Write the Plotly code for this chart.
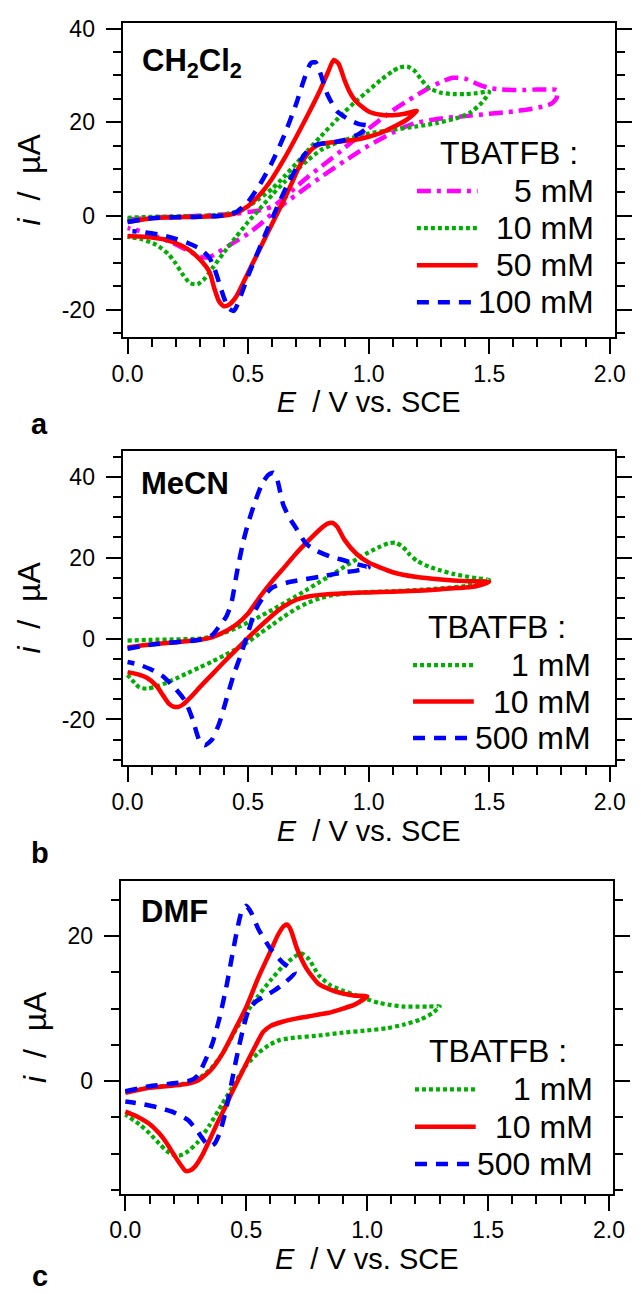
import plotly.graph_objects as go

# ------------------------------------------------------------------
# DATA
# ------------------------------------------------------------------
# Panel a : CH2Cl2, TBATFB 5 / 10 / 50 / 100 mM
E_a5 = [0, 0.1, 0.2, 0.3, 0.4, 0.45, 0.5, 0.55, 0.6, 0.65, 0.7, 0.75, 0.8, 0.85, 0.9, 0.95, 1.0, 1.05, 1.1,
        1.15, 1.2, 1.25, 1.3, 1.35, 1.4, 1.45, 1.5, 1.55, 1.6, 1.65, 1.7, 1.75, 1.78,
        1.78, 1.76, 1.72, 1.66, 1.6, 1.5, 1.4, 1.3, 1.2, 1.15, 1.1, 1.05, 1.0, 0.95, 0.9, 0.85, 0.8, 0.75, 0.7,
        0.65, 0.6, 0.55, 0.5, 0.45, 0.4, 0.36, 0.33, 0.3, 0.25, 0.2, 0.15, 0.1, 0.05, 0.0]
I_a5 = [-0.8, -0.4, -0.2, 0, 0.3, 0.5, 0.8, 1.2, 2.0, 3.8, 6.2, 8.4, 10.4, 12.4, 14.5, 16.6, 18.6, 20.6, 22.5,
        24.2, 25.8, 27.3, 28.6, 29.5, 29.3, 28.2, 27.3, 27.0, 26.9, 26.9, 27.0, 27.0, 26.9,
        25.2, 24.0, 23.3, 22.7, 22.3, 21.8, 21.3, 20.8, 19.9, 19.0, 17.8, 16.4, 15.0, 13.4, 11.7, 10.0, 8.2, 6.4,
        4.5, 2.6, 0.5, -1.8, -3.8, -5.4, -7.0, -8.3, -8.9, -8.7, -7.4, -6.1, -5.0, -4.0, -3.2, -2.6]

E_a10 = [0, 0.1, 0.2, 0.3, 0.4, 0.45, 0.5, 0.55, 0.6, 0.65, 0.7, 0.75, 0.8, 0.85, 0.9, 0.95, 1.0, 1.05, 1.1,
         1.13, 1.16, 1.19, 1.22, 1.25, 1.3, 1.35, 1.4, 1.45, 1.5,
         1.47, 1.42, 1.36, 1.28, 1.2, 1.1, 1.0, 0.9, 0.85, 0.8, 0.75, 0.7, 0.65, 0.6, 0.55, 0.5, 0.45, 0.4,
         0.35, 0.32, 0.29, 0.26, 0.23, 0.2, 0.17, 0.12, 0.06, 0.0]
I_a10 = [-0.4, -0.2, -0.1, 0, 0.3, 0.9, 2.0, 3.8, 5.8, 8.4, 11.2, 14.1, 16.9, 19.6, 22.2, 24.6, 26.8, 29.0, 30.9,
         31.7, 31.9, 31.0, 29.0, 27.3, 26.3, 26.0, 26.0, 26.2, 26.5,
         24.2, 22.0, 20.8, 19.8, 19.1, 18.4, 17.6, 16.2, 15.2, 14.0, 12.0, 9.7, 7.2, 4.5, 1.6, -1.3, -4.5, -7.8,
         -11.3, -13.4, -14.6, -14.4, -12.6, -10.2, -8.2, -6.2, -5.0, -4.5]

E_a50 = [0, 0.1, 0.2, 0.3, 0.4, 0.45, 0.5, 0.55, 0.6, 0.65, 0.7, 0.75, 0.8, 0.83, 0.855, 0.875, 0.9, 0.92, 0.95,
         1.0, 1.05, 1.1, 1.15, 1.2,
         1.16, 1.1, 1.05, 1.0, 0.95, 0.9, 0.85, 0.8, 0.77, 0.74, 0.71, 0.69, 0.65, 0.61, 0.57, 0.53, 0.49, 0.45,
         0.42, 0.4, 0.38, 0.36, 0.34, 0.3, 0.25, 0.2, 0.15, 0.1, 0.05, 0.0]
I_a50 = [-1.3, -0.5, -0.3, -0.2, 0.1, 0.6, 2.1, 4.6, 8.0, 12.2, 16.9, 21.8, 27.0, 30.5, 33.3, 32.5, 29.0, 26.6, 24.3,
         22.3, 21.6, 21.5, 21.8, 22.4,
         20.6, 18.9, 17.7, 16.9, 16.3, 16.0, 15.7, 15.3, 14.5, 12.8, 10.3, 8.0, 3.5, -0.6, -4.8, -9.0, -13.2, -17.3,
         -19.0, -19.3, -18.3, -15.5, -12.0, -9.3, -7.1, -5.8, -5.0, -4.6, -4.4, -4.3]

E_a100 = [0, 0.1, 0.2, 0.3, 0.4, 0.45, 0.5, 0.55, 0.6, 0.65, 0.7, 0.73, 0.76, 0.78, 0.8, 0.83, 0.87, 0.92, 0.96, 1.0,
          0.96, 0.9, 0.84, 0.79, 0.76, 0.73, 0.7, 0.66, 0.62, 0.58, 0.54, 0.5, 0.47, 0.45, 0.44, 0.42, 0.4, 0.38,
          0.36, 0.34, 0.3, 0.25, 0.2, 0.15, 0.1, 0.05, 0.02]
I_a100 = [-1.3, -0.5, -0.3, -0.2, 0.1, 0.8, 3.0, 6.8, 11.5, 17.2, 24.0, 28.8, 32.6, 32.8, 30.4, 25.8, 22.3, 20.5, 19.6,
          19.2,
          17.5, 16.2, 15.6, 15.3, 14.6, 12.8, 10.2, 6.3, 1.8, -2.9, -7.8, -12.8, -17.0, -19.6, -20.3, -19.8, -17.5,
          -14.3, -11.2, -9.0, -7.0, -5.8, -4.9, -4.2, -3.7, -3.4, -3.3]

# Panel b : MeCN, TBATFB 1 / 10 / 500 mM
E_b1 = [0, 0.1, 0.2, 0.3, 0.35, 0.4, 0.45, 0.5, 0.55, 0.6, 0.65, 0.7, 0.75, 0.8, 0.85, 0.9, 0.95, 1.0, 1.05, 1.08,
        1.11, 1.14, 1.17, 1.2, 1.25, 1.3, 1.35, 1.4, 1.45, 1.5,
        1.4, 1.3, 1.2, 1.1, 1.0, 0.9, 0.85, 0.8, 0.75, 0.7, 0.65, 0.6, 0.55, 0.5, 0.45, 0.4, 0.35, 0.3, 0.25,
        0.2, 0.15, 0.11, 0.08, 0.05, 0.03, 0.0]
I_b1 = [-0.5, -0.3, -0.2, 0, 0.5, 1.4, 2.6, 4.0, 5.5, 7.1, 8.8, 10.5, 12.3, 14.1, 15.9, 17.8, 19.6, 21.3, 22.8, 23.5,
        23.7, 22.8, 20.8, 19.2, 17.8, 16.8, 16.0, 15.4, 14.9, 14.5,
        13.0, 12.4, 12.0, 11.7, 11.5, 11.1, 10.7, 10.0, 8.9, 7.4, 5.5, 3.4, 1.3, -0.8, -2.6, -4.2, -5.7, -7.1,
        -8.5, -9.9, -11.2, -12.0, -12.4, -12.1, -11.0, -9.0]

E_b10 = [0, 0.1, 0.2, 0.3, 0.35, 0.4, 0.45, 0.5, 0.55, 0.6, 0.65, 0.7, 0.75, 0.8, 0.83, 0.85, 0.87, 0.9, 0.95, 1.0,
         1.1, 1.2, 1.3, 1.4, 1.5,
         1.45, 1.4, 1.3, 1.2, 1.1, 1.0, 0.9, 0.8, 0.75, 0.7, 0.65, 0.6, 0.55, 0.5, 0.45, 0.4, 0.35, 0.3, 0.26,
         0.23, 0.21, 0.19, 0.17, 0.15, 0.12, 0.08, 0.04, 0.0]
I_b10 = [-2.2, -1.4, -0.9, -0.3, 0.3, 1.6, 3.4, 6.2, 10.4, 14.2, 17.6, 21.1, 24.2, 27.1, 28.4, 28.6, 27.6, 24.4, 20.9,
         18.8, 16.4, 15.2, 14.6, 14.2, 14.0,
         13.0, 12.6, 12.2, 11.8, 11.6, 11.4, 11.2, 10.8, 10.4, 9.6, 8.0, 5.7, 3.0, 0.2, -2.8, -5.8, -8.9, -12.0,
         -14.6, -16.3, -16.9, -16.8, -16.0, -14.3, -11.7, -9.7, -8.8, -8.3]

E_b500 = [0, 0.1, 0.2, 0.3, 0.35, 0.38, 0.41, 0.43, 0.455, 0.48, 0.5, 0.53, 0.56, 0.585, 0.605, 0.62, 0.645, 0.67,
          0.7, 0.74, 0.78, 0.84, 0.9, 0.95, 1.0,
          0.95, 0.89, 0.8, 0.72, 0.66, 0.6, 0.56, 0.53, 0.5, 0.47, 0.44, 0.41, 0.38, 0.35, 0.32, 0.3, 0.27, 0.24,
          0.2, 0.15, 0.1, 0.05, 0.0]
I_b500 = [-2.5, -1.5, -0.9, -0.3, 0.8, 3.0, 5.5, 8.6, 16.8, 24.0, 28.5, 34.0, 38.5, 40.5, 41.0, 39.5, 33.2, 30.0,
          27.2, 23.5, 21.8, 20.3, 19.3, 18.4, 17.6,
          16.8, 16.3, 15.3, 14.5, 13.8, 12.6, 10.0, 7.0, 1.5, -4.0, -9.0, -15.0, -21.0, -25.0, -26.4, -25.5, -20.0,
          -15.5, -12.5, -9.5, -7.7, -6.5, -5.8]

# Panel c : DMF, TBATFB 1 / 10 / 500 mM
E_c1 = [0, 0.1, 0.2, 0.25, 0.3, 0.35, 0.4, 0.45, 0.5, 0.55, 0.6, 0.65, 0.7, 0.73, 0.76, 0.8, 0.85, 0.9, 0.95, 1.0,
        1.05, 1.1, 1.15, 1.2, 1.25, 1.3,
        1.27, 1.22, 1.15, 1.08, 1.0, 0.9, 0.8, 0.7, 0.64, 0.6, 0.55, 0.5, 0.45, 0.4, 0.35, 0.3, 0.25, 0.22, 0.2,
        0.17, 0.14, 0.1, 0.06, 0.0]
I_c1 = [-1.5, -0.9, -0.5, -0.3, 0.3, 1.6, 3.7, 6.7, 9.4, 11.8, 13.9, 15.8, 17.2, 17.6, 16.8, 14.6, 13.2, 12.5, 11.9,
        11.3, 10.8, 10.5, 10.3, 10.3, 10.3, 10.3,
        9.4, 8.5, 7.8, 7.3, 7.0, 6.7, 6.3, 6.0, 5.7, 5.1, 3.9, 2.2, -0.4, -3.2, -6.0, -8.4, -9.9, -10.3, -10.2,
        -9.6, -8.6, -7.2, -6.0, -4.6]

E_c10 = [0, 0.1, 0.2, 0.25, 0.3, 0.35, 0.4, 0.45, 0.5, 0.55, 0.6, 0.63, 0.655, 0.67, 0.685, 0.71, 0.75, 0.8, 0.85,
         0.9, 0.95, 1.0,
         0.95, 0.9, 0.85, 0.8, 0.75, 0.7, 0.65, 0.6, 0.57, 0.54, 0.5, 0.47, 0.44, 0.41, 0.38, 0.35, 0.32, 0.29,
         0.27, 0.25, 0.23, 0.2, 0.17, 0.14, 0.1, 0.05, 0.0]
I_c10 = [-1.6, -0.9, -0.6, -0.4, 0.1, 1.4, 3.7, 6.9, 10.2, 14.3, 17.9, 20.1, 21.4, 21.6, 20.8, 18.3, 15.5, 13.4, 12.6,
         12.1, 11.8, 11.7,
         10.6, 10.0, 9.5, 9.2, 8.9, 8.6, 8.2, 7.6, 6.8, 5.0, 2.4, 0.4, -1.6, -3.8, -5.8, -8.0, -10.1, -11.7,
         -12.3, -12.4, -11.6, -10.1, -8.5, -7.2, -5.9, -4.9, -4.2]

E_c500 = [0, 0.1, 0.2, 0.27, 0.3, 0.33, 0.36, 0.39, 0.42, 0.44, 0.46, 0.48, 0.5, 0.52, 0.55, 0.6, 0.65, 0.7,
          0.66, 0.62, 0.58, 0.54, 0.51, 0.49, 0.47, 0.45, 0.43, 0.41, 0.39, 0.37, 0.35, 0.33, 0.3, 0.26, 0.2,
          0.13, 0.06, 0.0]
I_c500 = [-1.4, -0.7, -0.3, 0.1, 0.8, 2.8, 5.2, 8.8, 13.4, 17.0, 20.5, 23.3, 24.2, 23.3, 21.0, 18.3, 16.4, 15.0,
          13.6, 12.6, 11.8, 11.0, 9.8, 7.6, 4.8, 1.6, -1.8, -4.8, -7.2, -8.6, -9.0, -8.4, -7.0, -5.4, -4.3,
          -3.6, -3.1, -2.8]

# Tick labels
X_TICKS = [0.0, 0.5, 1.0, 1.5, 2.0]
X_TICKTEXT = ["0.0", "0.5", "1.0", "1.5", "2.0"]
Y_TICKS_A = [-20, 0, 20, 40]
Y_TICKS_B = [-20, 0, 20, 40]
Y_TICKS_C = [0, 20]

# Text
SOLVENTS = ["<b>CH<sub>2</sub>Cl<sub>2</sub></b>", "<b>MeCN</b>", "<b>DMF</b>"]
PANEL_LETTERS = ["<b>a</b>", "<b>b</b>", "<b>c</b>"]
LEGEND_TITLE = "TBATFB :"
NAMES_A = ["5 mM", "10 mM", "50 mM", "100 mM"]
NAMES_B = ["1 mM", "10 mM", "500 mM"]
NAMES_C = ["1 mM", "10 mM", "500 mM"]
X_TITLE = "<i>E</i>\u00a0\u00a0/\u00a0V vs. SCE"
Y_TITLE = "<i>i</i>\u00a0\u00a0/\u00a0\u00a0\u00b5A"

# ------------------------------------------------------------------
# STYLE
# ------------------------------------------------------------------
W, H = 641, 1294
FONT = "Liberation Sans, Arial, sans-serif"
RED, BLUE, GREEN, MAGENTA = "#FF0000", "#0000FF", "#00B000", "#FF00FF"
LW = 4.5
STY = {
    "red": dict(color=RED, width=LW, dash="solid"),
    "blue": dict(color=BLUE, width=LW, dash="12px,9px"),
    "green": dict(color=GREEN, width=4.2, dash="4px,3px"),
    "magenta": dict(color=MAGENTA, width=LW, dash="14px,6px,4px,6px"),
}


def fx(p):
    return p / W


def fy(p):
    return 1 - p / H


# panel geometry in pixels: box left, right, top, bottom ; axis ranges
PANELS = [
    dict(box=(115.7, 626.3, 15.7, 331.7), xr=(-0.0208, 2.0212), yr=(-25.85, 41.27), yt=Y_TICKS_A),
    dict(box=(115.7, 626.3, 446.0, 762.3), xr=(-0.0208, 2.0212), yr=(-31.3, 46.47), yt=Y_TICKS_B),
    dict(box=(113.7, 624.3, 878.3, 1193.3), xr=(-0.0195, 2.0164), yr=(-15.55, 27.69), yt=Y_TICKS_C),
]

SERIES = [
    [(E_a5, I_a5, "magenta"), (E_a10, I_a10, "green"), (E_a50, I_a50, "red"), (E_a100, I_a100, "blue")],
    [(E_b1, I_b1, "green"), (E_b10, I_b10, "red"), (E_b500, I_b500, "blue")],
    [(E_c1, I_c1, "green"), (E_c10, I_c10, "red"), (E_c500, I_c500, "blue")],
]
NAMES = [NAMES_A, NAMES_B, NAMES_C]

# legend geometry (pixels): title centre, first row y, row step, sample x0/x1, text right edge
LEG = [
    dict(tx=517, ty=147, y0=185, dy=37.3, sx0=421, sx1=484, tr=607),
    dict(tx=504, ty=623, y0=661.7, dy=36.7, sx0=417, sx1=480, tr=604),
    dict(tx=505, ty=1050, y0=1088.3, dy=37.5, sx0=419, sx1=482, tr=606),
]
SOLV_POS = [(134, 56), (133, 479), (133, 909)]
LETTER_POS = [(30, 419, "middle"), (30, 851, "middle"), (30, 1294, "bottom")]

fig = go.Figure()
layout = dict(width=W, height=H, margin=dict(l=0, r=0, t=0, b=0),
              paper_bgcolor="white", plot_bgcolor="white", showlegend=False,
              font=dict(family=FONT, color="black"))
annotations = []
shapes = []

for k, p in enumerate(PANELS):
    sfx = "" if k == 0 else str(k + 1)
    l, r, t, b = p["box"]
    for E, I, st in SERIES[k]:
        fig.add_trace(go.Scatter(x=E, y=I, mode="lines", xaxis="x" + sfx, yaxis="y" + sfx,
                                 line=dict(shape="spline", smoothing=0.6, **STY[st]),
                                 showlegend=False, hoverinfo="skip"))
    tickfont = dict(family=FONT, size=23, color="black")
    layout["xaxis" + sfx] = dict(
        domain=[fx(l), fx(r)], range=list(p["xr"]), anchor="y" + sfx,
        showline=True, linecolor="black", linewidth=2, mirror=True,
        ticks="outside", ticklen=15, tickwidth=2, tickcolor="black",
        tickmode="array", tickvals=X_TICKS, ticktext=X_TICKTEXT, tickfont=tickfont,
        minor=dict(tickmode="linear", tick0=0, dtick=0.1, ticks="outside", ticklen=8,
                   tickwidth=2, tickcolor="black", showgrid=False),
        showgrid=False, zeroline=False,
        title=dict(text=X_TITLE, font=dict(family=FONT, size=29, color="black"), standoff=4),
    )
    layout["yaxis" + sfx] = dict(
        domain=[fy(b), fy(t)], range=list(p["yr"]), anchor="x" + sfx,
        showline=True, linecolor="black", linewidth=2, mirror="allticks",
        ticks="outside", ticklen=15, tickwidth=2, tickcolor="black", ticklabelstandoff=6,
        tickmode="array", tickvals=p["yt"], ticktext=[str(v) for v in p["yt"]], tickfont=tickfont,
        minor=dict(tickmode="linear", tick0=0, dtick=5, ticks="outside", ticklen=8,
                   tickwidth=2, tickcolor="black", showgrid=False),
        showgrid=False, zeroline=False,
        title=dict(text=Y_TITLE, font=dict(family=FONT, size=32, color="black"), standoff=11),
    )

    # solvent label and panel letter
    sx, sy = SOLV_POS[k]
    annotations.append(dict(text=SOLVENTS[k], x=fx(sx), y=fy(sy), xref="paper", yref="paper",
                            xanchor="left", yanchor="middle", showarrow=False,
                            font=dict(family=FONT, size=31, color="black")))
    lx, ly, anc = LETTER_POS[k]
    annotations.append(dict(text=PANEL_LETTERS[k], x=fx(lx), y=fy(ly), xref="paper", yref="paper",
                            xanchor="center", yanchor=anc, showarrow=False,
                            font=dict(family=FONT, size=29, color="black")))

    # legend (key): title, line samples, right-aligned labels
    g = LEG[k]
    annotations.append(dict(text=LEGEND_TITLE, x=fx(g["tx"]), y=fy(g["ty"]), xref="paper", yref="paper",
                            xanchor="center", yanchor="middle", showarrow=False,
                            font=dict(family=FONT, size=32, color="black")))
    for j, (E, I, st) in enumerate(SERIES[k]):
        yy = g["y0"] + j * g["dy"]
        s = STY[st]
        shapes.append(dict(type="line", xref="paper", yref="paper",
                           x0=fx(g["sx0"]), x1=fx(g["sx1"]), y0=fy(yy), y1=fy(yy),
                           line=dict(color=s["color"], width=s["width"], dash=s["dash"])))
        annotations.append(dict(text=NAMES[k][j], x=fx(g["tr"]), y=fy(yy), xref="paper", yref="paper",
                                xanchor="right", yanchor="middle", showarrow=False,
                                font=dict(family=FONT, size=32, color="black")))

layout["annotations"] = annotations
layout["shapes"] = shapes
fig.update_layout(**layout)
fig.write_html("out.html")
